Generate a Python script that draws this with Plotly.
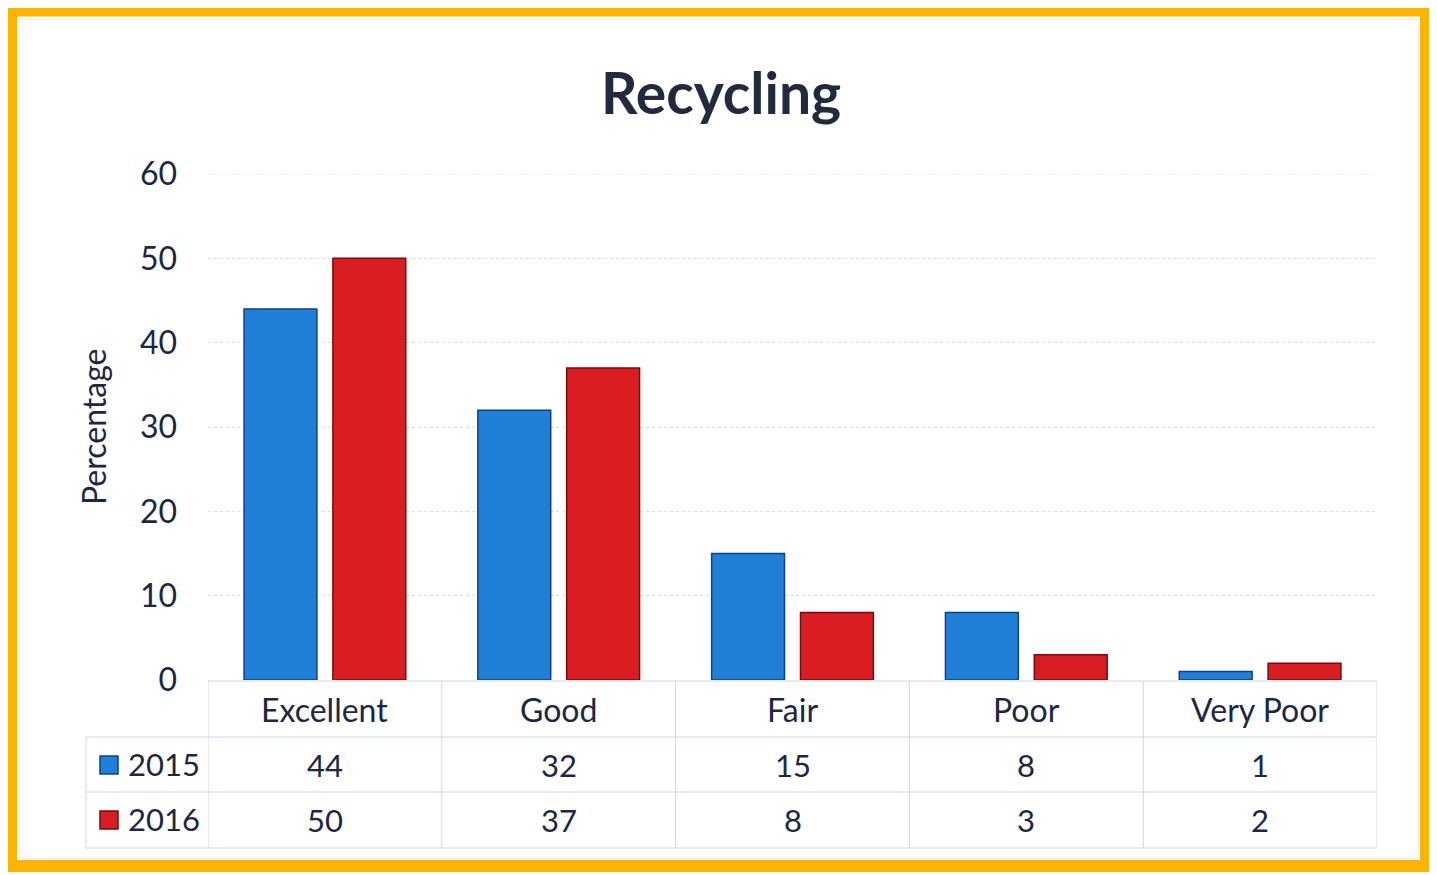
import plotly.graph_objects as go

categories = ["Excellent", "Good", "Fair", "Poor", "Very Poor"]
series_names = ["2015", "2016"]
values_2015 = [44, 32, 15, 8, 1]
values_2016 = [50, 37, 8, 3, 2]
y_ticks = [0, 10, 20, 30, 40, 50, 60]

OFF = 8  # page body margin
W, H = 1437 - OFF, 875 - OFF
L, R, T, B = 208, 1377, 174, 680
PW, PH = R - L, B - T

def px(x):
    return (x - L) / PW

def py(y):
    return (B - y) / PH

TXT = "#1c2744"
FONT = "Lato"
fills = ["#2080d8", "#d81e23"]
edges = ["#0f3f8c", "#7a0a0c"]
GRID = "#d8deea"

fig = go.Figure()
for name, vals, fc, ec in zip(series_names, [values_2015, values_2016], fills, edges):
    fig.add_trace(go.Bar(
        x=categories, y=vals, name=name,
        marker=dict(color=fc, line=dict(color=ec, width=1.5)),
        showlegend=False,
    ))

fig.update_layout(
    width=W, height=H,
    margin=dict(l=L - OFF, r=W - (R - OFF), t=T - OFF, b=H - (B - OFF)),
    paper_bgcolor="white", plot_bgcolor="white",
    bargap=0.24, bargroupgap=0.18,
    barmode="group",
    font=dict(family=FONT, color=TXT),
    xaxis=dict(showticklabels=False, showgrid=False, zeroline=False,
               showline=False, range=[-0.5, 4.5], fixedrange=True),
    yaxis=dict(range=[0, 60], tickvals=y_ticks, showgrid=True,
               gridcolor=GRID, griddash="dot", gridwidth=1,
               zeroline=False, showline=False,
               tickfont=dict(size=32, color=TXT, family=FONT),
               ticklabelstandoff=30),
)

shapes = []
shapes.append(dict(type="line", xref="paper", yref="y", x0=0, x1=1,
                   y0=y_ticks[-1], y1=y_ticks[-1], layer="below",
                   line=dict(color=GRID, width=1, dash="dot")))
shapes.append(dict(type="rect", xref="paper", yref="paper",
                   x0=px(11), x1=px(1426), y0=py(10.5), y1=py(866),
                   line=dict(color="#f9b406", width=12), fillcolor="rgba(0,0,0,0)"))
shapes.append(dict(type="rect", xref="paper", yref="paper",
                   x0=px(19), x1=px(1418), y0=py(19), y1=py(858),
                   line=dict(color="#e3e8f0", width=1), fillcolor="rgba(0,0,0,0)"))

LINE = dict(color="#cfd6e4", width=1)
shapes.append(dict(type="line", xref="paper", yref="paper",
                   x0=px(208), x1=px(1377), y0=py(681), y1=py(681), line=LINE))
for yy in [737, 792, 848]:
    shapes.append(dict(type="line", xref="paper", yref="paper",
                       x0=px(86), x1=px(1377), y0=py(yy), y1=py(yy), line=LINE))
for i in range(len(categories) + 1):
    shapes.append(dict(type="line", xref="x", yref="paper",
                       x0=i - 0.5, x1=i - 0.5, y0=py(681), y1=py(848), line=LINE))
shapes.append(dict(type="line", xref="paper", yref="paper",
                   x0=px(86), x1=px(86), y0=py(737), y1=py(848), line=LINE))

row_y = [765, 820]
for yc, fc, ec in zip(row_y, fills, edges):
    shapes.append(dict(type="rect", xref="paper", yref="paper",
                       x0=px(100), x1=px(118), y0=py(yc - 9), y1=py(yc + 9),
                       fillcolor=fc, line=dict(color=ec, width=1.5)))

annotations = []
annotations.append(dict(text="<b>Recycling</b>", xref="paper", yref="paper",
                        x=px(721), y=py(92), showarrow=False,
                        font=dict(size=57, color="#222a3d", family=FONT),
                        xanchor="center", yanchor="middle"))
annotations.append(dict(text="Percentage", xref="paper", yref="paper",
                        x=px(93), y=py(427), showarrow=False, textangle=-90,
                        font=dict(size=32, color=TXT, family=FONT),
                        xanchor="center", yanchor="middle"))
for c in categories:
    annotations.append(dict(text=c, xref="x", yref="paper", x=c, y=py(709),
                            showarrow=False, font=dict(size=32, color=TXT, family=FONT),
                            xanchor="center", yanchor="middle"))
for name, vals, yc in zip(series_names, [values_2015, values_2016], row_y):
    annotations.append(dict(text=name, xref="paper", yref="paper", x=px(126), y=py(yc - 1),
                            showarrow=False, font=dict(size=31, color=TXT, family=FONT),
                            xanchor="left", yanchor="middle"))
    for c, v in zip(categories, vals):
        annotations.append(dict(text=str(v), xref="x", yref="paper", x=c, y=py(yc),
                                showarrow=False, font=dict(size=31, color=TXT, family=FONT),
                                xanchor="center", yanchor="middle"))

fig.update_layout(shapes=shapes, annotations=annotations)
fig.write_html("out.html")
